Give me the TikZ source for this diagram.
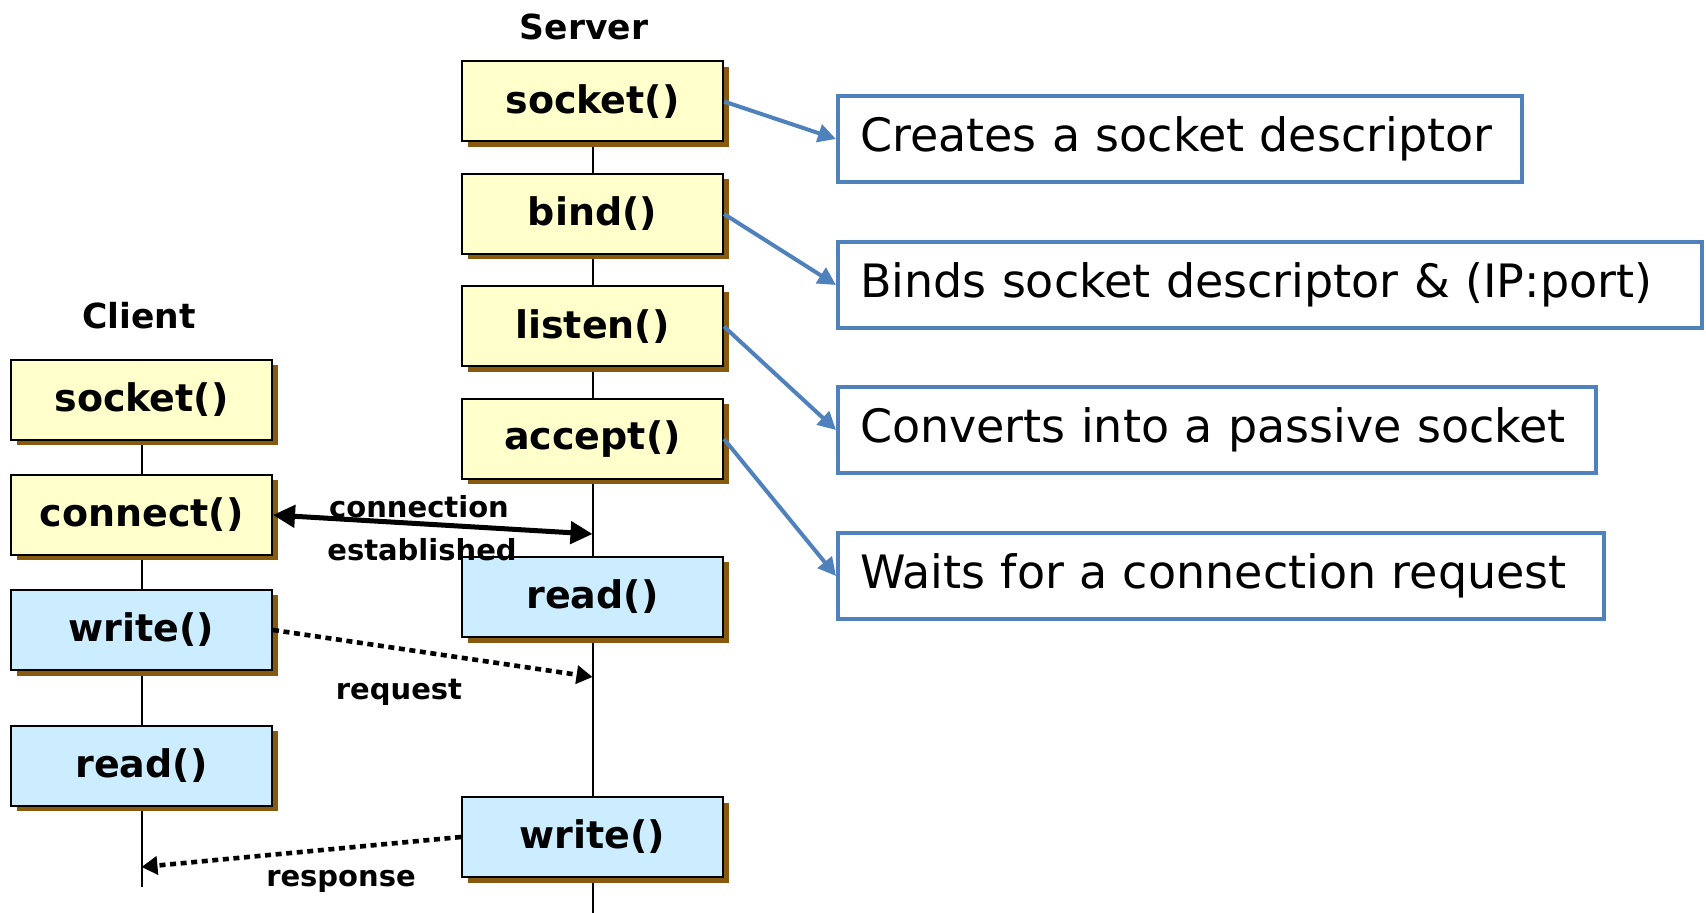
\documentclass[tikz,border=0pt]{standalone}
\usepackage{fontspec}
\setmainfont{DejaVu Sans}
\usetikzlibrary{shadows,arrows.meta,backgrounds}
\definecolor{yel}{RGB}{255,255,204}
\definecolor{lblue}{RGB}{204,236,255}
\definecolor{shbrown}{RGB}{135,90,15}
\definecolor{bord}{RGB}{79,129,189}
\tikzset{
 fn/.style={draw=black, line width=1pt, minimum width=130.5pt, minimum height=40pt, inner sep=0pt,
   font=\bfseries\fontsize{19}{22}\selectfont,
   drop shadow={shadow xshift=2.75pt, shadow yshift=-2.75pt, fill=shbrown, opacity=1}},
 yfn/.style={fn, fill=yel},
 bfn/.style={fn, fill=lblue},
 desc/.style={draw=bord, line width=2pt, anchor=west, minimum height=43pt, inner xsep=11pt,
   align=left, text width=#1, font=\fontsize{23}{27}\selectfont},
 hd/.style={font=\bfseries\fontsize{17.25}{20}\selectfont},
 lbl/.style={font=\bfseries\fontsize{14.5}{17}\selectfont},
 pointer/.style={draw=bord, line width=2pt, -{Triangle[length=9pt,width=9pt]}},
 msg/.style={line width=2.3pt, dash pattern=on 3pt off 2.3pt, -{Triangle[length=8pt,width=9pt]}},
 conn/.style={line width=2.5pt, {Triangle[length=11pt,width=11pt]}-{Triangle[length=11pt,width=11pt]}},
 life/.style={line width=1pt},
}
\begin{document}
\begin{tikzpicture}[x=0.5pt,y=-0.5pt]
\useasboundingbox (0,0) rectangle (1706,913);
% headers
\node[hd] (srvlbl) at (584,27) {Server};
\node[hd] (clilbl) at (139,316) {Client};
% server boxes
\node[yfn] (ssock) at (592.5,101.5) {socket()};
\node[yfn] (sbind) at (592.5,214) {bind()};
\node[yfn] (slisten) at (592.5,326.5) {listen()};
\node[yfn] (saccept) at (592.5,439) {accept()};
\node[bfn] (sread) at (592.5,597) {read()};
\node[bfn] (swrite) at (592.5,837) {write()};
% client boxes
\node[yfn] (csock) at (141.5,400) {socket()};
\node[yfn] (cconn) at (141.5,515) {connect()};
\node[bfn] (cwrite) at (141.5,630) {write()};
\node[bfn] (cread) at (141.5,765.5) {read()};
% lifelines
\coordinate (sEnd) at (592.5,913);
\coordinate (cEnd) at (141.5,887);
\begin{scope}[on background layer]
\draw[life] (ssock.south) -- (sEnd);
\draw[life] (csock.south) -- (cEnd);
\end{scope}
% descriptions
\node[desc=320pt] (d1) at (836,139) {Creates a socket descriptor};
\node[desc=410pt] (d2) at (836,285) {Binds socket descriptor \& (IP:port)};
\node[desc=357pt] (d3) at (836,430) {Converts into a passive socket};
\node[desc=361pt] (d4) at (836,576) {Waits for a connection request};
\draw[pointer] (ssock.east) -- (d1.west);
\draw[pointer] (sbind.east) -- (d2.west);
\draw[pointer] (slisten.east) -- (d3.west);
\draw[pointer] (saccept.east) -- (d4.west);
% messages
\coordinate (connEnd) at (592.5,534);
\coordinate (reqEnd) at (592.5,677);
\coordinate (respEnd) at (141.5,867);
\draw[conn] (cconn.east) -- (connEnd);
\draw[msg] (cwrite.east) -- (reqEnd);
\draw[msg] (swrite.west) -- (respEnd);
\node[lbl] (l1) at (419,507) {connection};
\node[lbl] (l2) at (422,550) {established};
\node[lbl] (l3) at (399,692) {request};
\node[lbl] (l4) at (341,881) {response};
\end{tikzpicture}
\end{document}
